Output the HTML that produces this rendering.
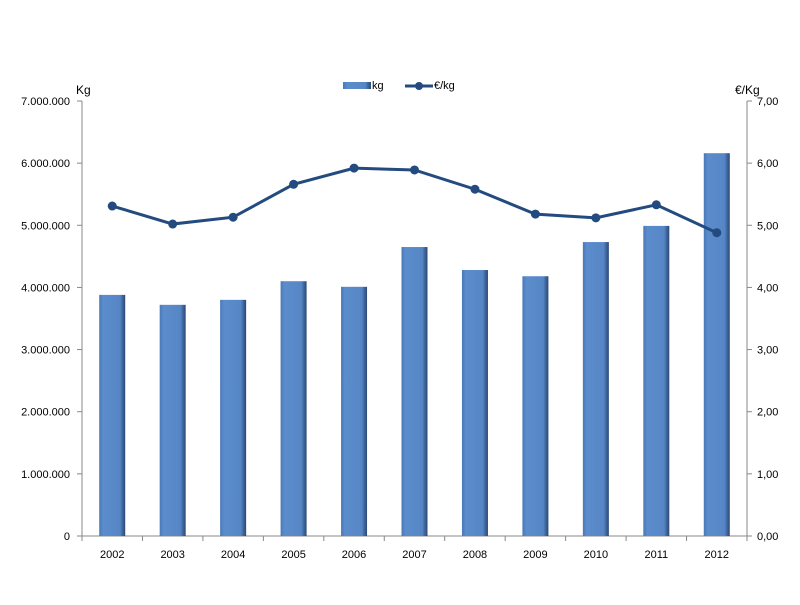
<!DOCTYPE html>
<html><head><meta charset="utf-8"><style>
body{margin:0;background:#fff;font-family:"Liberation Sans",sans-serif}
svg text{font-family:"Liberation Sans",sans-serif;font-size:11px;fill:#000}
</style></head><body>
<svg width="800" height="600">
<defs>
<linearGradient id="bg" x1="0" x2="1" y1="0" y2="0">
<stop offset="0" stop-color="#4a78b8"/><stop offset="0.15" stop-color="#5b8ccc"/><stop offset="0.8" stop-color="#5686c6"/><stop offset="0.9" stop-color="#3d6499"/><stop offset="1" stop-color="#2c4a75"/>
</linearGradient>
</defs>
<g id="axes"></g><g id="bars"></g><g id="line"></g>
<text x="76" y="94" style="font-size:12px">Kg</text>
<text x="735" y="94" style="font-size:12px">€/Kg</text>
<g>
<rect x="343" y="82" width="28" height="7" fill="url(#bg)"/>
<text x="372" y="89">kg</text>
<line x1="405" y1="86" x2="433" y2="86" stroke="#234b7f" stroke-width="3"/>
<circle cx="419" cy="86" r="4" fill="#234b7f"/>
<text x="434" y="89">€/kg</text>
</g>
</svg>
<script>
const years=["2002","2003","2004","2005","2006","2007","2008","2009","2010","2011","2012"];
const kg=[3880000,3720000,3800000,4100000,4010000,4650000,4280000,4180000,4730000,4990000,6160000];
const price=[5.31,5.02,5.13,5.66,5.92,5.89,5.58,5.18,5.12,5.33,4.88];
const leftTicks=["0","1.000.000","2.000.000","3.000.000","4.000.000","5.000.000","6.000.000","7.000.000"];
const rightTicks=["0,00","1,00","2,00","3,00","4,00","5,00","6,00","7,00"];
const NS="http://www.w3.org/2000/svg";
const X0=82,X1=747,Y0=536,Y1=101;
const cw=(X1-X0)/years.length;
const xc=i=>X0+cw*(i+0.5);
const yL=v=>Y0-(v/7000000)*(Y0-Y1);
const yR=v=>Y0-(v/7)*(Y0-Y1);
function mk(t,a,p){const e=document.createElementNS(NS,t);for(const k in a)e.setAttribute(k,a[k]);p.appendChild(e);return e;}
const ax=document.getElementById('axes');
let l=mk('line',{x1:X0,y1:Y1,x2:X0,y2:Y0,stroke:'#888'},ax);


l=mk('line',{x1:X1,y1:Y1,x2:X1,y2:Y0,stroke:'#888'},ax);


l=mk('line',{x1:X0,y1:Y0,x2:X1,y2:Y0,stroke:'#888'},ax);


leftTicks.forEach((t,i)=>{const y=Y0-i*(Y0-Y1)/7;
mk('line',{x1:X0-5,y1:y,x2:X0,y2:y,stroke:'#888'},ax);
mk('line',{x1:X1,y1:y,x2:X1+5,y2:y,stroke:'#888'},ax);
let tx=mk('text',{x:X0-12,y:y+4,'text-anchor':'end'},ax);tx.textContent=t;


let tr=mk('text',{x:X1+10,y:y+4},ax);tr.textContent=rightTicks[i];

});
years.forEach((yr,i)=>{mk('line',{x1:X0+cw*i,y1:Y0,x2:X0+cw*i,y2:Y0+5,stroke:'#888'},ax);
let t=mk('text',{x:xc(i),y:Y0+22,'text-anchor':'middle'},ax);t.textContent=yr;

});
mk('line',{x1:X1,y1:Y0,x2:X1,y2:Y0+5,stroke:'#888'},ax);
const bg=document.getElementById('bars');
kg.forEach((v,i)=>{const r=mk('rect',{x:xc(i)-13,y:yL(v),width:26,height:Y0-yL(v),fill:'url(#bg)'},bg);

});
const lg=document.getElementById('line');
const pl=mk('polyline',{points:price.map((v,i)=>xc(i)+','+yR(v)).join(' '),fill:'none',stroke:'#234b7f','stroke-width':3},lg);


price.forEach((v,i)=>{const c=mk('circle',{cx:xc(i),cy:yR(v),r:4.5,fill:'#234b7f'},lg);

});
</script>
</body></html>
